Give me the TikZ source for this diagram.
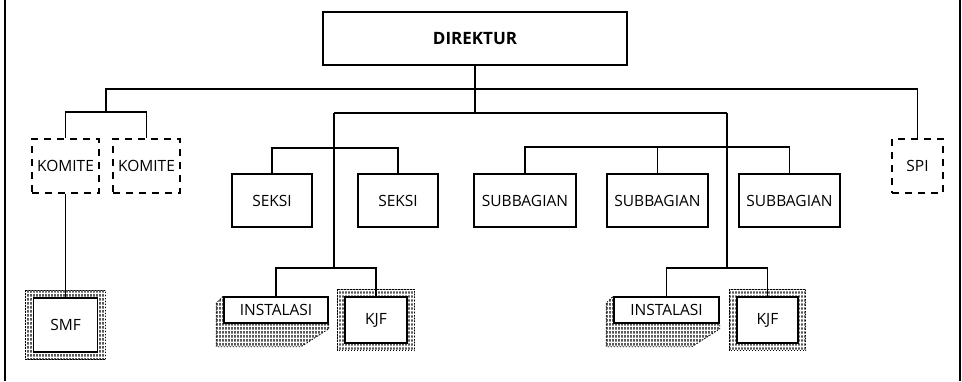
\documentclass[tikz,border=0pt]{standalone}
\usepackage{fontspec}
\setmainfont{Open Sans}
\usepackage{tikz}
\usetikzlibrary{calc, patterns, backgrounds}

% mẫu chấm gạch nhỏ
\pgfdeclarepatternformonly{ticks}{\pgfpointorigin}{\pgfpoint{3pt}{3.5pt}}{\pgfpoint{3pt}{3.5pt}}{
    \pgfpathrectangle{\pgfpoint{0.5pt}{0.5pt}}{\pgfpoint{1.6pt}{2.6pt}}
    \pgfusepath{fill}
}

\begin{document}
\begin{tikzpicture}[x=1pt, y=-1pt,
    box/.style={draw, line width=1.6pt, fill=white, inner sep=0pt, font=\fontsize{15.5}{17}\selectfont},
    dashbox/.style={box, dash pattern=on 7pt off 6pt},
    conn/.style={line width=1.6pt},
    pat/.style={pattern=ticks, draw, dash pattern=on 1.5pt off 1.5pt, line width=0.8pt}]
    \useasboundingbox (0,0) rectangle (962,381);

    % 1. Khung hai cạnh trái phải
    \draw[line width=2pt] (5,0) -- (5,381);
    \draw[line width=2pt] (960,0) -- (960,381);

    % 2. Các ô
    \node[box, minimum width=304, minimum height=53, font=\fontsize{17}{19}\selectfont\bfseries] (dir) at (475,38.5) {DIREKTUR};
    \node[dashbox, minimum width=67, minimum height=54] (kom1) at (65.5,166) {KOMITE};
    \node[dashbox, minimum width=67, minimum height=54] (kom2) at (146.5,166) {KOMITE};
    \node[dashbox, minimum width=51, minimum height=54] (spi) at (917.5,166) {SPI};
    \node[box, minimum width=80, minimum height=53] (sek1) at (272,200.5) {SEKSI};
    \node[box, minimum width=80, minimum height=53] (sek2) at (398,200.5) {SEKSI};
    \node[box, minimum width=102, minimum height=53] (sub1) at (525,200.5) {SUBBAGIAN};
    \node[box, minimum width=101, minimum height=53] (sub2) at (657.5,200.5) {SUBBAGIAN};
    \node[box, minimum width=101, minimum height=53] (sub3) at (789.5,200.5) {SUBBAGIAN};
    \node[box, minimum width=104, minimum height=26] (ins1) at (276,310) {INSTALASI};
    \node[box, minimum width=62, minimum height=46] (kjf1) at (376,320) {KJF};
    \node[box, minimum width=105, minimum height=26] (ins2) at (666.5,310) {INSTALASI};
    \node[box, minimum width=61, minimum height=46] (kjf2) at (767.5,320) {KJF};
    \node[box, minimum width=64, minimum height=54] (smf) at (65.5,325) {SMF};

    % 3. Viền chấm quanh SMF, KJF và bóng của INSTALASI
    \begin{scope}[on background layer]
    \foreach \n in {smf, kjf1, kjf2} {
        \filldraw[pat] ($(\n.north west)+(-7,-7)$) rectangle ($(\n.south east)+(7,7)$);
    }
    \foreach \n in {ins1, ins2} {
        \filldraw[pat] ($(\n.north west)+(-7,7)$) -- ($(\n.south west)+(-7,23)$)
            -- ($(\n.south east)+(-28,23)$) -- ($(\n.south east)+(0,5)$)
            -- (\n.south east) -- (\n.south west) -- (\n.north west) -- cycle;
    }
    \end{scope}

    % 4. Các đường nối
    \coordinate (kj) at (106,112);
    \coordinate (ls) at (334,113);
    \coordinate (rs) at (727,113);
    \coordinate (lj) at (334,268);
    \coordinate (rj) at (727,268);
    \draw[conn] (dir.south) -- (dir.south |- ls);
    \draw[conn] (kom1.north) |- (kj) -| (kom2.north);
    \draw[conn] (kj) -- ++(0,-23) -| (spi.north);
    \draw[conn] (ls) -- (rs);
    \draw[conn] (ls) -- (lj);
    \draw[conn] (rs) -- (rj);
    \draw[conn] (sek1.north) |- (ls |- 0,148) -| (sek2.north);
    \draw[conn] (sub1.north) -- ++(0,-26) -| (sub3.north);
    \draw[conn] (sub2.north) -- ++(0,-26);
    \draw[conn] (ins1.north) |- (lj) -| (kjf1.north);
    \draw[conn] (ins2.north) |- (rj) -| (kjf2.north);
    \draw[conn] (kom1.south) -- (smf.north);

\end{tikzpicture}
\end{document}
